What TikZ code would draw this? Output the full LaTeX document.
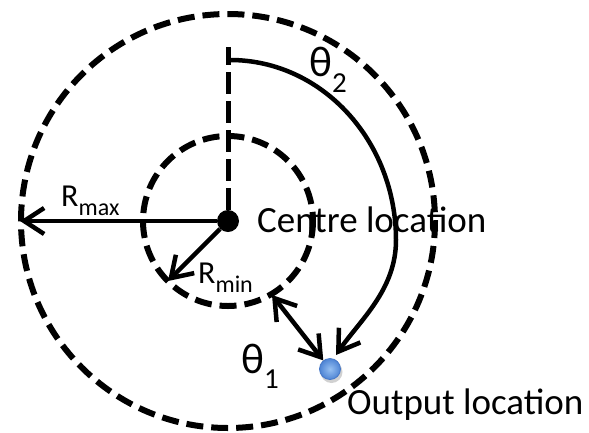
\documentclass[tikz,border=0pt]{standalone}
\usepackage{fontspec}
\setmainfont{Carlito}
\usetikzlibrary{arrows.meta}
\definecolor{dotin}{RGB}{150,192,242}
\definecolor{dotout}{RGB}{78,132,212}
\definecolor{dotedge}{RGB}{70,120,200}
\begin{document}
\begin{tikzpicture}[x=1pt,y=-1pt,
  dashcirc/.style={line width=6pt, dash pattern=on 17pt off 8pt},
  dashvert/.style={line width=5pt, dash pattern=on 22pt off 7pt},
  arr/.style={line width=4.5pt, line join=round, -{Straight Barb[length=20pt,width=26pt]}},
  dblarr/.style={line width=4.5pt, line join=round, {Straight Barb[length=20pt,width=26pt]}-{Straight Barb[length=20pt,width=26pt]}},
  lbl/.style={inner sep=0pt, anchor=base west},
  big/.style={font=\fontsize{37}{37}\selectfont},
]
\useasboundingbox (0,0) rectangle (589,432);
\fill[white] (0,0) rectangle (589,432);
% circles
\draw[dashcirc] (228,221) circle[radius=207];
\draw[dashcirc] (228,221) circle[radius=85];
% centre dot
\node (c) [circle, fill=black, minimum size=22pt, inner sep=0pt] at (228,221) {};
% coordinates
\coordinate (vtop) at (228,47);
\coordinate (rmax) at (20,221);
\coordinate (rmin) at (168,281);
\coordinate (t1a) at (272,295);
\coordinate (a2s) at (230,60);
\coordinate (a2e) at (336,355);
% output dot with shadow
\fill[black, opacity=0.18] (331.5,372) circle[radius=11];
\node (out) [circle, minimum size=21pt, inner sep=0pt, draw=dotedge, line width=0.8pt, inner color=dotin, outer color=dotout] at (330,369) {};
% lines
\draw[dashvert] (c) -- (vtop);
\draw[arr] (c) -- (rmax);
\draw[arr] (c) -- (rmin);
\draw[dblarr] (t1a) -- (out);
\draw[arr] (a2s) .. controls (322,60) and (396,141) .. (396,240)
                 .. controls (396,290) and (360,320) .. (a2e);
% labels
\node[lbl, big] (cl) at (257,232) {Centre location};
\node[lbl, big] (ol) at (347,414) {Output location};
\node[lbl] (lmax) at (61,206) {\fontsize{32}{32}\selectfont R\raisebox{-9pt}{\fontsize{24}{24}\selectfont max}};
\node[lbl] (lmin) at (198,283) {\fontsize{32}{32}\selectfont R\raisebox{-9pt}{\fontsize{24}{24}\selectfont min}};
\node[lbl] (lt1) at (241,373) {\fontsize{43}{43}\selectfont θ\raisebox{-15pt}{\fontsize{29}{29}\selectfont 1}};
\node[lbl] (lt2) at (309,76) {\fontsize{43}{43}\selectfont θ\raisebox{-16pt}{\fontsize{29}{29}\selectfont 2}};
\end{tikzpicture}
\end{document}
